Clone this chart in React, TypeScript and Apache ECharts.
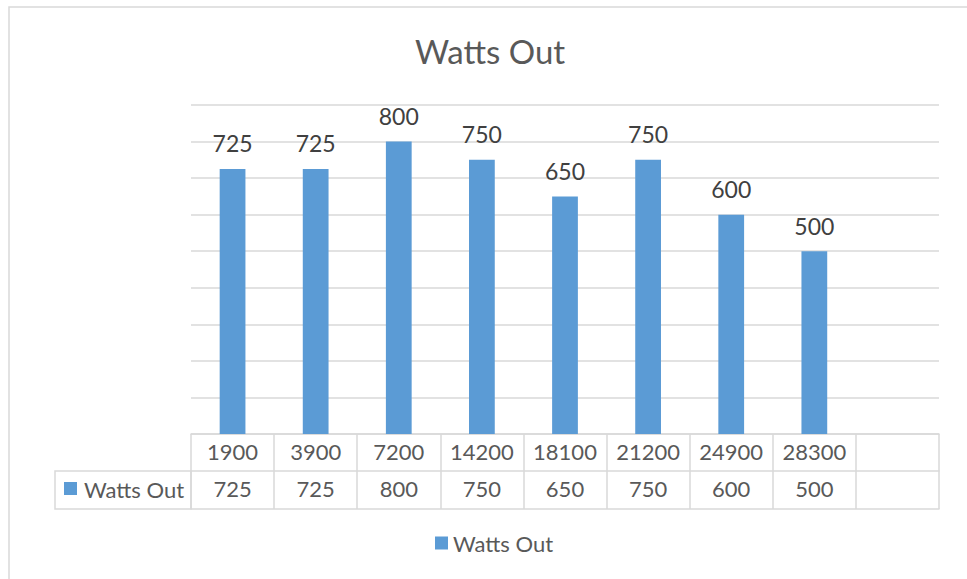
import React, { useEffect, useRef } from "react";
import * as echarts from "echarts";

const seriesName = "Watts Out";
const titleText = "Watts Out";
const categories = ["1900", "3900", "7200", "14200", "18100", "21200", "24900", "28300"];
const values = [725, 725, 800, 750, 650, 750, 600, 500];
const yMin = 0;
const yMax = 900;
const yInterval = 100;

const FONT = "Lato, 'Liberation Sans', sans-serif";
const BAR = "#5b9bd5";
const LINE = "#d9d9d9";
const TXT = "#595959";

export default function App() {
  const ref = useRef<HTMLDivElement>(null);
  useEffect(() => {
    if (!ref.current) return;
    const chart = echarts.init(ref.current, undefined, { renderer: "svg" });
    const axisCats = [...categories, ""];
    const axisVals = [...values.map((v) => String(v)), ""];
    const lineStyle = { color: LINE, width: 1.5 };
    chart.setOption({
      animation: false,
      textStyle: { fontFamily: FONT },
      title: {
        text: titleText,
        left: 410,
        top: 29,
        textStyle: { fontFamily: FONT, fontSize: 33, fontWeight: "normal", color: TXT },
      },
      legend: {
        data: [seriesName],
        bottom: 20,
        left: 430,
        icon: "rect",
        itemWidth: 13,
        itemHeight: 13,
        itemGap: 7,
        textStyle: { fontFamily: FONT, fontSize: 22, color: TXT },
      },
      grid: { left: 191, right: 28, top: 105, bottom: 145, containLabel: false },
      xAxis: [
        {
          type: "category",
          data: axisCats,
          position: "bottom",
          axisLine: { show: true, lineStyle },
          axisTick: { show: true, interval: 0, length: 75, alignWithLabel: false, lineStyle },
          axisLabel: { interval: 0, margin: 6, color: TXT, fontSize: 22, fontFamily: FONT },
          splitLine: { show: false },
        },
        {
          type: "category",
          data: axisVals,
          position: "bottom",
          offset: 37,
          axisLine: { show: true, lineStyle },
          axisTick: { show: false },
          axisLabel: { interval: 0, margin: 6, color: TXT, fontSize: 22, fontFamily: FONT },
          splitLine: { show: false },
        },
        {
          type: "category",
          data: axisCats,
          position: "bottom",
          offset: 75,
          axisLine: { show: true, lineStyle },
          axisTick: { show: false },
          axisLabel: { show: false },
          splitLine: { show: false },
        },
      ],
      yAxis: {
        type: "value",
        min: yMin,
        max: yMax,
        interval: yInterval,
        axisLabel: { show: false },
        axisLine: { show: false },
        axisTick: { show: false },
        splitLine: { show: true, lineStyle },
      },
      series: [
        {
          name: seriesName,
          type: "bar",
          xAxisIndex: 0,
          data: values,
          barWidth: "31%",
          itemStyle: { color: BAR },
          label: {
            show: true,
            position: "top",
            distance: 14,
            color: "#404040",
            fontSize: 23,
            fontFamily: FONT,
          },
        },
      ],
      graphic: [
        {
          type: "rect",
          shape: { x: 9, y: 7, width: 980, height: 600 },
          style: { fill: "none", stroke: LINE, lineWidth: 1.5 },
          silent: true,
        },
        {
          type: "rect",
          shape: { x: 55, y: 471, width: 136, height: 38 },
          style: { fill: "none", stroke: LINE, lineWidth: 1.5 },
          silent: true,
        },
        {
          type: "rect",
          shape: { x: 64, y: 482, width: 13, height: 13 },
          style: { fill: BAR },
          silent: true,
        },
        {
          type: "text",
          x: 84,
          y: 489,
          style: {
            text: seriesName,
            fontFamily: FONT,
            fontSize: 22,
            fill: TXT,
            verticalAlign: "middle",
            align: "left",
          },
          silent: true,
        },
      ],
    });
    return () => chart.dispose();
  }, []);
  return (
    <div
      ref={ref}
      style={{ position: "fixed", left: 0, top: 0, width: 967, height: 579, background: "#fff" }}
    />
  );
}
